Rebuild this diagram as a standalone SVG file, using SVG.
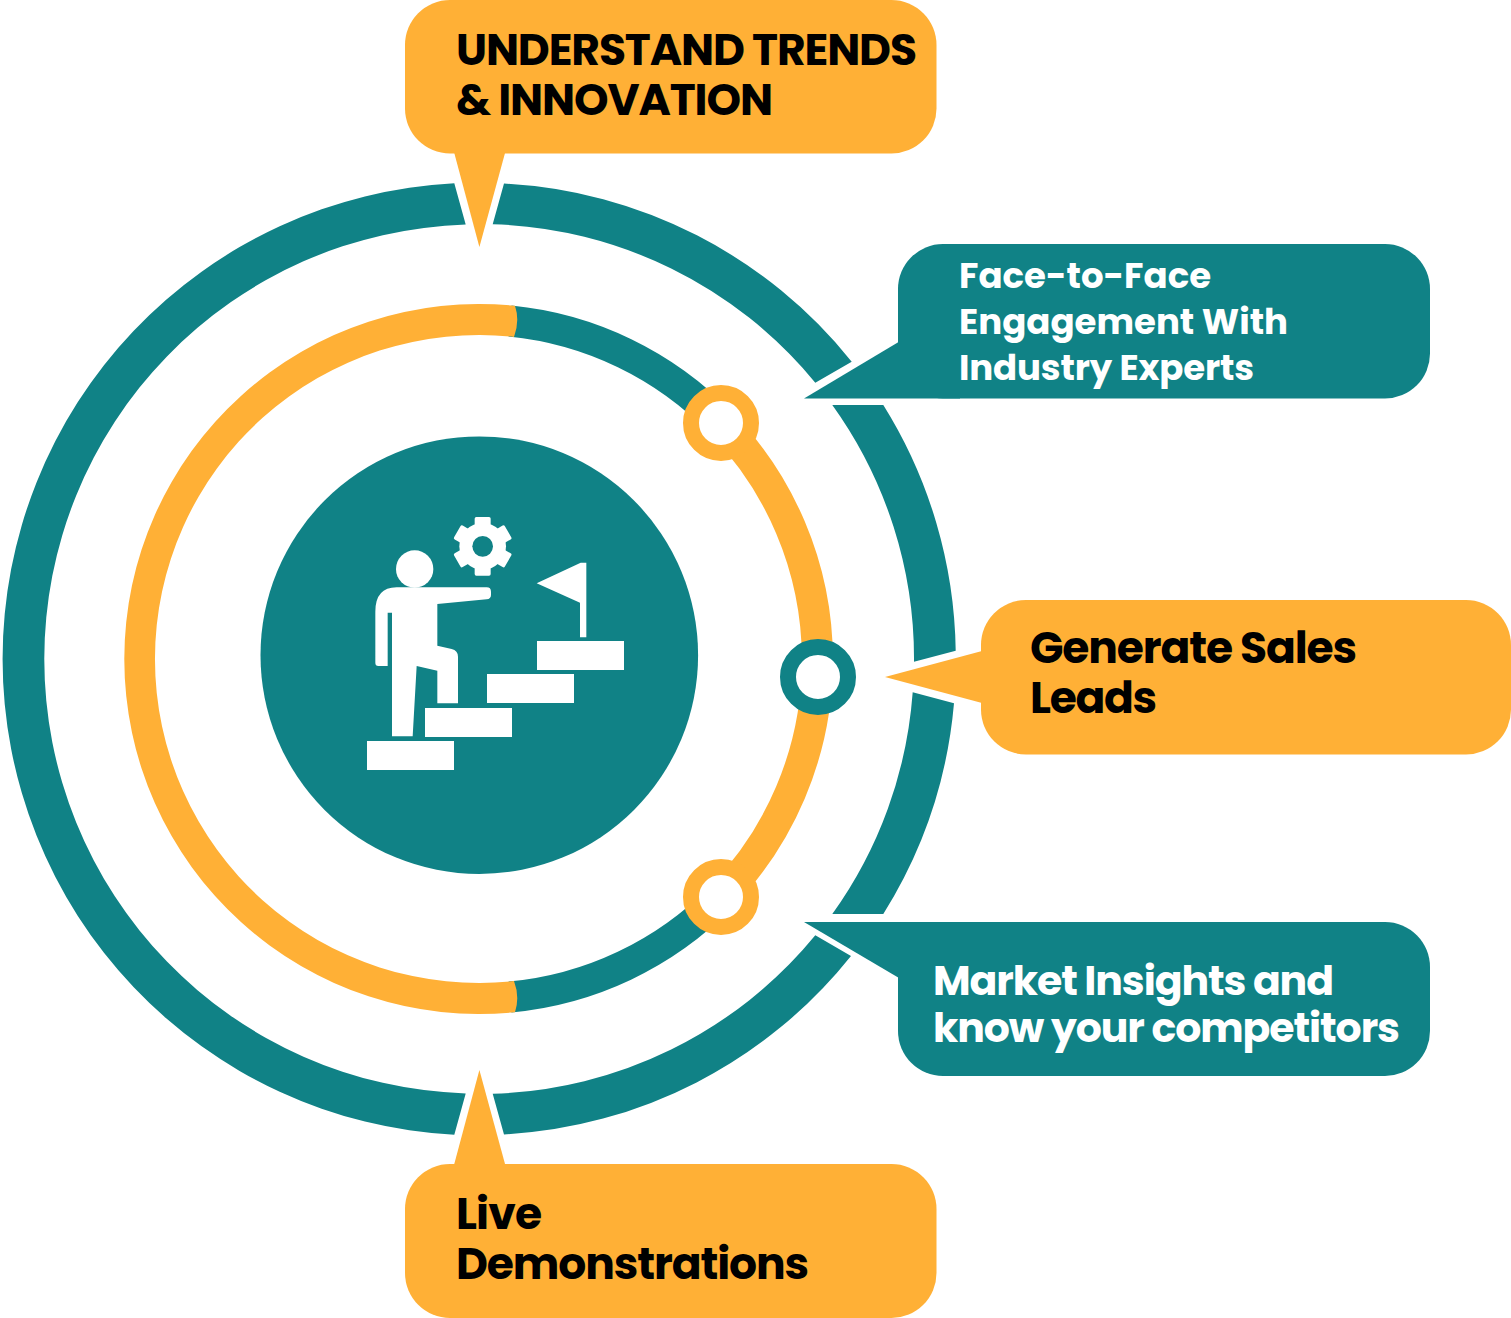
<svg xmlns="http://www.w3.org/2000/svg" width="1511" height="1318" viewBox="0 0 1511 1318">
<style>
.teal{fill:#108286}.orange{fill:#FFB036}.white{fill:#fff}
.lbl{font-family:"Poppins","Inter","Liberation Sans",sans-serif;font-weight:700;}
.big{font-size:44px;fill:#000}
.sm{font-size:35.5px;fill:#fff}
.md{font-size:41px;fill:#fff}
</style>
<rect width="1511" height="1318" fill="#fff"/>
<g id="connectors">
<g id="outer-ring" class="teal">
<path d="M454.3 183.24A476.4 476.4 0 0 0 454.3 1134.76L465.7 1093.4A434.6 434.6 0 0 1 465.7 224.6Z"/>
<path d="M504 183.6A476 476 0 0 1 851.7 361.7L815.3 382.7A434 434 0 0 0 492.7 224.2Z"/>
<path d="M883.3 405A476 476 0 0 1 955.7 650.7L914 661.7A434 434 0 0 0 832.3 405Z"/>
<path d="M954 703.3A476 476 0 0 1 883.3 914L832.3 914A434 434 0 0 0 912.7 692.3Z"/>
<path d="M851 956A476 476 0 0 1 504 1134.4L492.7 1093.8A434 434 0 0 0 815.3 935.3Z"/>
</g>
<g id="middle-ring" fill="none" stroke-width="31">
<path d="M510 321A339.5 339.5 0 0 1 721 423" stroke="#108286"/>
<path d="M510 997A339.5 339.5 0 0 0 721 897" stroke="#108286"/>
<path d="M721 423A339.5 339.5 0 0 1 721 897" stroke="#FFB036"/>
</g>
<path id="middle-ring-orange" class="orange" d="M515 305.8A355 355 0 1 0 515 1012.2Q520 997 514 981.1A324 324 0 1 1 514 336.9Q520 321 515 305.8Z"/>
</g>
<g id="center">
<circle cx="479.3" cy="655.2" r="218.8" class="teal"/>
<g id="icon" transform="translate(340 500) scale(0.33333)">
<g class="white">
<rect x="81" y="723" width="261" height="87"/>
<rect x="255" y="624" width="261" height="87"/>
<rect x="441" y="522" width="261" height="87"/>
<rect x="591" y="423" width="261" height="87"/>
<path d="M590 250L722 188H739V412H720V308Z"/>
<circle cx="224" cy="207" r="56"/>
<path d="M170 262H440Q453 262 453 275V285Q453 297 440 298L292 312V437L335 447Q354 452 354 470V610H292V512L230 498L218 709H156V338H143V498H115Q106 498 106 488V335Q106 262 170 262Z"/>
<g transform="translate(428 139)">
<circle r="70"/>
<rect x="-24" y="-88" width="48" height="36" rx="5"/>
<rect x="-24" y="-88" width="48" height="36" rx="5" transform="rotate(60)"/>
<rect x="-24" y="-88" width="48" height="36" rx="5" transform="rotate(120)"/>
<rect x="-24" y="-88" width="48" height="36" rx="5" transform="rotate(180)"/>
<rect x="-24" y="-88" width="48" height="36" rx="5" transform="rotate(240)"/>
<rect x="-24" y="-88" width="48" height="36" rx="5" transform="rotate(300)"/>
<circle r="31" class="teal"/>
</g>
</g>
</g>
</g>
<g id="dot-top"><circle cx="721" cy="423" r="30" fill="#fff" stroke="#FFB036" stroke-width="16"/></g>
<g id="dot-mid"><circle cx="818" cy="677" r="30" fill="#fff" stroke="#108286" stroke-width="16"/></g>
<g id="dot-bottom"><circle cx="721" cy="897" r="30" fill="#fff" stroke="#FFB036" stroke-width="16"/></g>
<g id="callout-trends">
<rect x="405" y="0" width="531.500" height="153.500" rx="45" class="orange"/>
<path d="M454 152L479.4 247L505.3 152Z" class="orange"/>
<text class="lbl big" x="456" y="64.500" textLength="461">UNDERSTAND TRENDS</text>
<text class="lbl big" x="456" y="114.500" textLength="317">&amp; INNOVATION</text>
</g>
<g id="callout-face">
<rect x="898" y="244" width="532" height="154.500" rx="45" class="teal"/>
<path d="M899 341.700L804 398.500H960V341.700Z" class="teal"/>
<text class="lbl sm" x="959" y="288" textLength="252">Face-to-Face</text>
<text class="lbl sm" x="959" y="334" textLength="329">Engagement With</text>
<text class="lbl sm" x="959" y="380" textLength="295">Industry Experts</text>
</g>
<g id="callout-sales">
<rect x="981" y="600" width="530" height="154.500" rx="45" class="orange"/>
<path d="M982 651L885 677L982 703Z" class="orange"/>
<text class="lbl big" x="1030" y="662.500" textLength="327">Generate Sales</text>
<text class="lbl big" x="1030" y="712.500" textLength="127">Leads</text>
</g>
<g id="callout-market">
<rect x="898" y="922" width="532" height="154" rx="45" class="teal"/>
<path d="M804 922L899 978H960V922Z" class="teal"/>
<text class="lbl md" x="933" y="995" textLength="401">Market Insights and</text>
<text class="lbl md" x="933" y="1042" textLength="467">know your competitors</text>
</g>
<g id="callout-live">
<rect x="405" y="1164" width="531.500" height="154" rx="45" class="orange"/>
<path d="M454 1165L479.400 1070L505.300 1165Z" class="orange"/>
<text class="lbl big" x="456" y="1228.500" textLength="86">Live</text>
<text class="lbl big" x="456" y="1278.500" textLength="353">Demonstrations</text>
</g>
</svg>
